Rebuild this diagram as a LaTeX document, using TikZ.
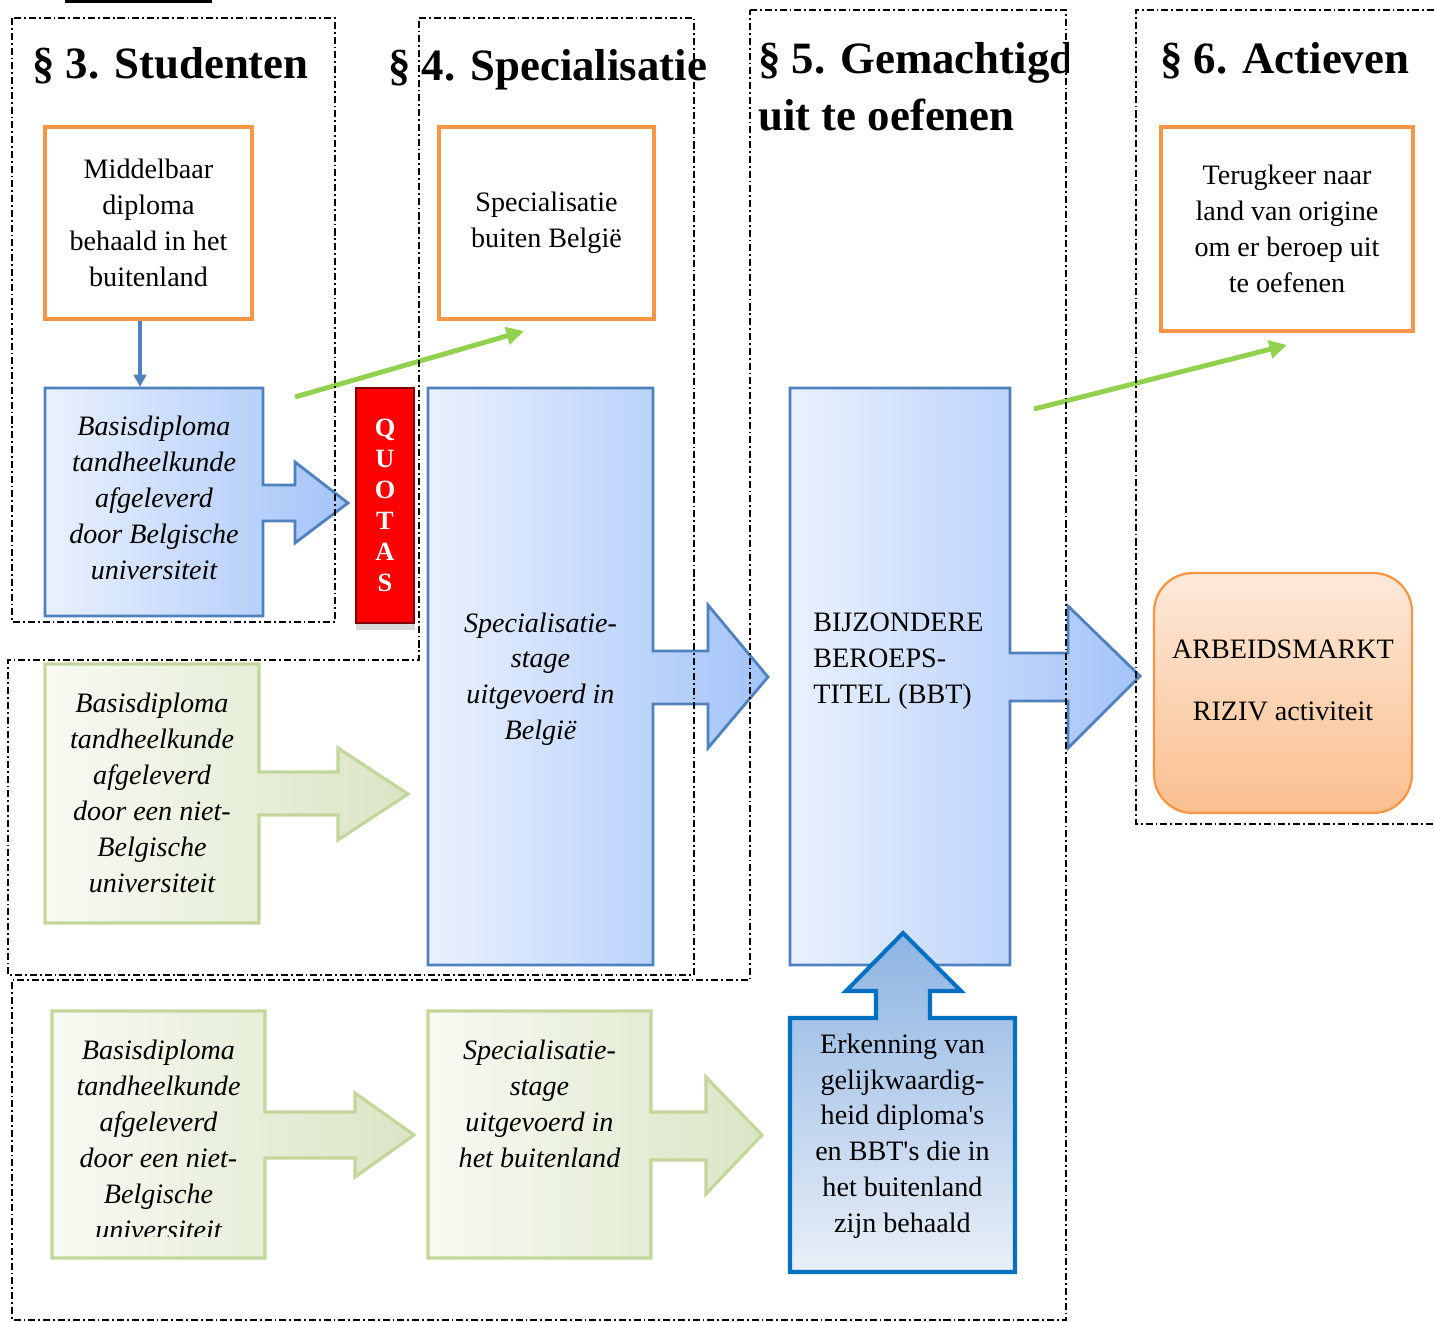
\documentclass[tikz,border=0pt]{standalone}
\usepackage{fontspec}
\setmainfont{Liberation Serif}
\usetikzlibrary{arrows.meta,calc}

\definecolor{boxorange}{HTML}{F79646}
\definecolor{boxblue}{HTML}{4F81BD}
\definecolor{bluelite}{HTML}{EAF1FD}
\definecolor{bluedeep}{HTML}{A3C3F9}
\definecolor{boxgreen}{HTML}{C3D69B}
\definecolor{greenlite}{HTML}{F8FAF3}
\definecolor{greendeep}{HTML}{DAE5C5}
\definecolor{arrgreen}{HTML}{92D050}
\definecolor{erkline}{HTML}{0070C0}
\definecolor{erktop}{HTML}{8DB4E2}
\definecolor{erkbot}{HTML}{E9EFF8}
\definecolor{markttop}{HTML}{FDE9D9}
\definecolor{marktbot}{HTML}{FABF8F}
\definecolor{quotared}{HTML}{FF0000}
\definecolor{quotaline}{HTML}{7F0000}

\tikzset{
  region/.style={draw=black, line width=0.9pt, dash pattern=on 4pt off 1.7pt on 1pt off 1.7pt},
  heading/.style={anchor=base west, font=\fontsize{25.5}{30}\bfseries\selectfont, inner sep=0pt},
  body/.style={align=center, font=\fontsize{16}{20.4}\selectfont, inner sep=0pt},
  italbody/.style={body, font=\fontsize{16}{20.4}\itshape\selectfont},
  orangebox/.style={draw=boxorange, line width=2.2pt, fill=white, body},
  bluecallout/.style={draw=boxblue, line width=1.6pt, left color=bluelite, right color=bluedeep},
  greencallout/.style={draw=boxgreen, line width=1.8pt, left color=greenlite, right color=greendeep},
  greenarrow/.style={draw=arrgreen, line width=2.8pt, -{Triangle[length=10pt,width=10pt]}},
}

\begin{document}
\begin{tikzpicture}[x=0.02cm, y=-0.02cm]
\useasboundingbox (0,0) rectangle (1434,1322);

% cut-off underline at the top
\draw[line width=1.2pt] (65,1.5) -- (212,1.5);

% headings
\node[heading] (h3) at (32,78) {§ 3. Studenten};
\node[heading] (h4) at (388,80) {§ 4. Specialisatie};
\begin{scope}
\clip (750,10) rectangle (1068,150);
\node[heading] (h5) at (758,73) {§ 5. Gemachtigd};
\end{scope}
\node[heading] (h5b) at (758,130) {uit te oefenen};
\node[heading] (h6) at (1160,73) {§ 6. Actieven};

% orange boxes
\node[orangebox, minimum width=4.14cm, minimum height=3.84cm] (mid) at (148.5,223) {Middelbaar\\diploma\\behaald in het\\buitenland};
\node[orangebox, minimum width=4.3cm, minimum height=3.84cm] (buiten) at (546.5,223) {Specialisatie\\buiten België};
\node[orangebox, minimum width=5.04cm, minimum height=4.08cm] (terug) at (1287,229) {Terugkeer naar\\land van origine\\om er beroep uit\\te oefenen};

% blue callouts
\path[bluecallout] (45,388) -- (263,388) -- (263,485) -- (295,485) -- (295,462) -- (348,503) -- (295,543) -- (295,521) -- (263,521) -- (263,616) -- (45,616) -- cycle;
\node[italbody] (bas) at (154,498) {Basisdiploma\\tandheelkunde\\afgeleverd\\door Belgische\\universiteit};
\path[bluecallout] (428,388) -- (653,388) -- (653,651) -- (708,651) -- (708,605) -- (768,677) -- (708,748) -- (708,704) -- (653,704) -- (653,965) -- (428,965) -- cycle;
\node[italbody] (spec) at (540.5,679) {Specialisatie-\\stage\\uitgevoerd in\\België};
\path[bluecallout] (790,388) -- (1010,388) -- (1010,653) -- (1068,653) -- (1068,606) -- (1140,676) -- (1068,748) -- (1068,701) -- (1010,701) -- (1010,965) -- (790,965) -- cycle;
\node[body, align=left, anchor=west] (bbt) at (813,661) {BIJZONDERE\\BEROEPS-\\TITEL (BBT)};

% quotas
\fill[gray!30] (356,615) rectangle (415,630);
\node[draw=quotaline, fill=quotared, line width=1.6pt, minimum width=1.16cm, minimum height=4.7cm, text=white, align=center, font=\fontsize{15}{17.6}\bfseries\selectfont, inner sep=0pt] (quota) at (385,505.5) {Q\\U\\O\\T\\A\\S};

% green callouts
\path[greencallout] (45,664) -- (259,664) -- (259,772) -- (338,772) -- (338,748) -- (408,794) -- (338,840) -- (338,815) -- (259,815) -- (259,923) -- (45,923) -- cycle;
\node[italbody] (nb1) at (152,793) {Basisdiploma\\tandheelkunde\\afgeleverd\\door een niet-\\Belgische\\universiteit};
\path[greencallout] (52,1011) -- (265,1011) -- (265,1112) -- (355,1112) -- (355,1093) -- (414,1135) -- (355,1177) -- (355,1158) -- (265,1158) -- (265,1258) -- (52,1258) -- cycle;
\begin{scope}
\clip (52,1011) rectangle (265,1236);
\node[italbody] (nb2) at (158.5,1140) {Basisdiploma\\tandheelkunde\\afgeleverd\\door een niet-\\Belgische\\universiteit};
\end{scope}
\path[greencallout] (428,1011) -- (651,1011) -- (651,1112) -- (706,1112) -- (706,1077) -- (762,1135) -- (706,1194) -- (706,1160) -- (651,1160) -- (651,1258) -- (428,1258) -- cycle;
\node[italbody] (sb) at (539.5,1104) {Specialisatie-\\stage\\uitgevoerd in\\het buitenland};

% recognition arrow
\path[draw=erkline, line width=2.3pt, top color=erktop, bottom color=erkbot] (790,1018) -- (876,1018) -- (876,991) -- (846,991) -- (903,933) -- (961,991) -- (930,991) -- (930,1018) -- (1015,1018) -- (1015,1272) -- (790,1272) -- cycle;
\node[body] (erk) at (902.5,1136) {Erkenning van\\gelijkwaardig-\\heid diploma\textquotesingle s\\en BBT\textquotesingle s die in\\het buitenland\\zijn behaald};

% labour market
\node[draw=boxorange, line width=1.3pt, rounded corners=22pt, top color=markttop, bottom color=marktbot, minimum width=5.16cm, minimum height=4.8cm] (markt) at (1283,693) {};
\node[body] (marktTxt) at (1283,680) {ARBEIDSMARKT\\[0.52cm]RIZIV activiteit};

% connectors
\coordinate (basTop) at (140,387);
\draw[draw=boxblue, line width=2pt, -{Triangle[length=7pt,width=7pt]}] (mid.south -| basTop) -- (basTop);
\coordinate (g1s) at (295,397);
\coordinate (g1e) at (524,331);
\draw[greenarrow] (g1s) -- (g1e);
\coordinate (g2s) at (1034,409);
\coordinate (g2e) at (1287,345);
\draw[greenarrow] (g2s) -- (g2e);

% regions
\draw[region] (12,18) rectangle (335,622);
\draw[region] (419,18) -- (694,18) -- (694,975) -- (8,975) -- (8,660) -- (419,660) -- cycle;
\draw[region] (750,10) -- (1066,10) -- (1066,1320) -- (12,1320) -- (12,980) -- (750,980) -- cycle;
\draw[region] (1434,10) -- (1136,10) -- (1136,824) -- (1434,824);
\end{tikzpicture}
\end{document}
